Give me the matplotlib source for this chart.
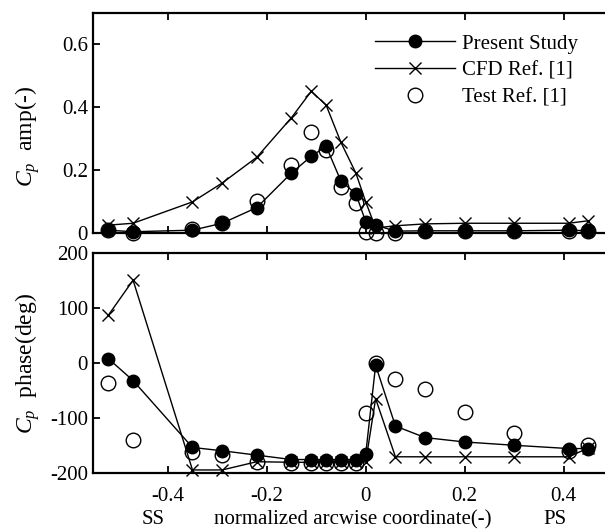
import matplotlib
matplotlib.use("Agg")
import matplotlib.pyplot as plt
from matplotlib.transforms import blended_transform_factory

plt.rcParams['font.family'] = ['Liberation Serif', 'DejaVu Serif']
plt.rcParams['mathtext.fontset'] = 'custom'
plt.rcParams['mathtext.rm'] = 'Liberation Serif'
plt.rcParams['mathtext.it'] = 'Liberation Serif:italic'
plt.rcParams['axes.unicode_minus'] = False

# x positions (normalized arcwise coordinate)
x = [-0.52, -0.47, -0.35, -0.29, -0.22, -0.15, -0.11, -0.08, -0.05, -0.02,
     0.0, 0.02, 0.06, 0.12, 0.20, 0.30, 0.41, 0.45]

# Cp amplitude
amp_present = [0.008, 0.003, 0.008, 0.030, 0.080, 0.190, 0.243, 0.275, 0.164, 0.124,
               0.035, 0.024, 0.005, 0.006, 0.006, 0.006, 0.008, 0.006]
amp_cfd = [0.024, 0.030, 0.098, 0.158, 0.240, 0.366, 0.450, 0.406, 0.287, 0.190,
           0.098, 0.015, 0.022, 0.028, 0.030, 0.030, 0.030, 0.038]
amp_test = [0.010, 0.000, 0.012, 0.032, 0.100, 0.214, 0.319, 0.263, 0.145, 0.093,
            0.003, 0.000, 0.000, 0.004, 0.004, 0.004, 0.004, 0.004]

# Cp phase
ph_present = [8, -32, -154, -160, -168, -176, -176, -176, -176, -176,
              -166, -4, -115, -136, -144, -150, -156, -156]
ph_cfd = [87, 151, -195, -195, -180, -181, -181, -181, -181, -181,
          -180, -65, -171, -171, -171, -171, -171, -155]
ph_test = [-37, -140, -162, -168, -180, -183, -183, -183, -183, -183,
           -92, 0, -30, -48, -89, -128, -160, -150]

xticks = [-0.4, -0.2, 0.0, 0.2, 0.4]
xticklabels = ['-0.4', '-0.2', '0', '0.2', '0.4']
amp_ticks = [0, 0.2, 0.4, 0.6]
amp_ticklabels = ['0', '0.2', '0.4', '0.6']
ph_ticks = [-200, -100, 0, 100, 200]
ph_ticklabels = ['-200', '-100', '0', '100', '200']

FS = 15
FSY = 17
fig = plt.figure(figsize=(6.05, 5.31), dpi=100)
ax1 = fig.add_axes([0.1545, 0.5618, 0.90, 0.4143])
ax2 = fig.add_axes([0.1545, 0.1098, 0.90, 0.4132])

def style(ax):
    for s in ['left', 'top', 'bottom', 'right']:
        ax.spines[s].set_linewidth(1.6)
    ax.tick_params(direction='in', length=5, width=1.3, top=True, right=False,
                   labelsize=FS)
    ax.tick_params(axis='y', pad=4)
    ax.tick_params(axis='x', pad=10)
    ax.set_xlim(-0.55, 0.55)
    ax.set_xticks(xticks)

for ax, yp, yc, yt in [(ax1, amp_present, amp_cfd, amp_test),
                       (ax2, ph_present, ph_cfd, ph_test)]:
    style(ax)
    ax.plot(x, yt, linestyle='none', marker='o', markersize=10.5,
            markerfacecolor='none', markeredgecolor='black', markeredgewidth=1.0,
            clip_on=False, zorder=3, label='Test Ref. [1]')
    ax.plot(x, yp, color='black', linewidth=1.0, marker='o', markersize=9,
            markerfacecolor='black', markeredgecolor='black',
            clip_on=False, zorder=4, label='Present Study')
    ax.plot(x, yc, color='black', linewidth=1.0, marker='x', markersize=8,
            markeredgewidth=1.0, clip_on=False, zorder=5, label='CFD Ref. [1]')

ax1.set_ylim(0, 0.7)
ax1.set_yticks(amp_ticks)
ax1.set_yticklabels(amp_ticklabels)
ax1.set_xticklabels([])

ax2.set_ylim(-200, 200)
ax2.set_yticks(ph_ticks)
ax2.set_yticklabels(ph_ticklabels)
ax2.set_xticklabels(xticklabels)

ax1.set_ylabel(r'$C_p$  amp(-)', fontsize=FSY)
ax2.set_ylabel(r'$C_p$  phase(deg)', fontsize=FSY)
ax1.yaxis.set_label_coords(-0.094, 0.44)
ax2.yaxis.set_label_coords(-0.094, 0.5)

handles, labels = ax1.get_legend_handles_labels()
order = [1, 2, 0]
ax1.legend([handles[i] for i in order], [labels[i] for i in order],
           loc='upper left', bbox_to_anchor=(375 / 605, 1 - 34 / 531),
           bbox_transform=fig.transFigure, frameon=False, fontsize=FS,
           handlelength=3.85, handletextpad=0.35, labelspacing=0.35,
           borderaxespad=0, borderpad=0)

tr = blended_transform_factory(ax2.transData, fig.transFigure)
ylab = 1 - 520 / 531
fig.text(-0.43, ylab, 'SS', transform=tr, ha='center', va='center', fontsize=FS)
fig.text(-0.027, ylab, 'normalized arcwise coordinate(-)', transform=tr,
         ha='center', va='center', fontsize=FS)
fig.text(0.383, ylab, 'PS', transform=tr, ha='center', va='center', fontsize=FS)

fig.savefig('out.png', dpi=100)
